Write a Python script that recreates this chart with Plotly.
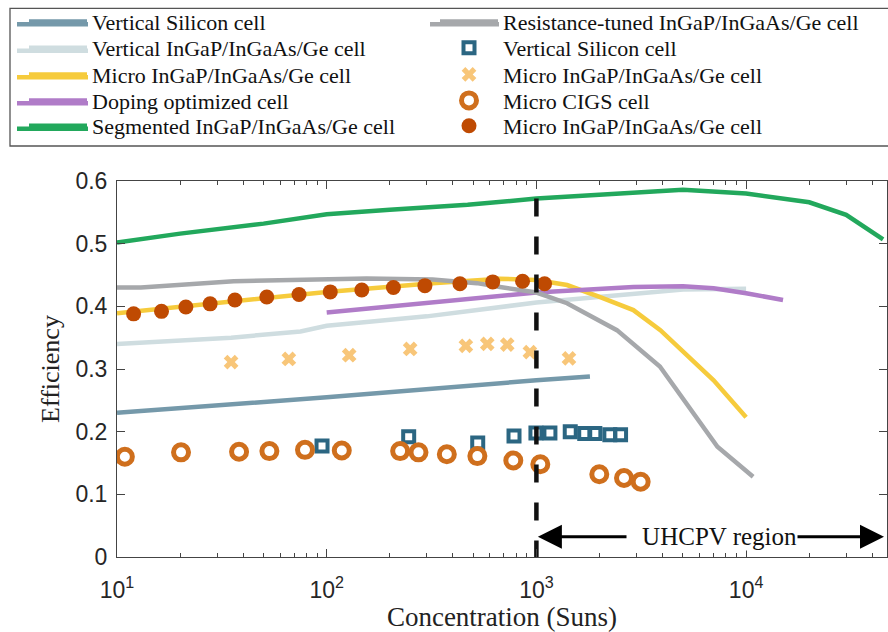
import plotly.graph_objects as go

# ---------------- data ----------------
vsi_line_c = [10, 100, 1000, 1800]
vsi_line_e = [0.230, 0.255, 0.282, 0.288]

vig_line_c = [10, 35, 75, 100, 155, 300, 1000, 2900, 5000, 10000]
vig_line_e = [0.340, 0.350, 0.360, 0.369, 0.375, 0.384, 0.406, 0.421, 0.427, 0.428]

micro_line_c = [10, 100, 320, 670, 1000, 1400, 2000, 2900, 3900, 7000, 10000]
micro_line_e = [0.389, 0.423, 0.437, 0.444, 0.442, 0.434, 0.415, 0.394, 0.362, 0.282, 0.223]

dop_line_c = [100, 316, 1000, 2900, 5000, 7000, 10000, 15000]
dop_line_e = [0.390, 0.406, 0.422, 0.431, 0.432, 0.429, 0.421, 0.410]

seg_line_c = [10, 20, 50, 100, 200, 470, 1000, 2000, 5000, 10000, 20000, 30000, 45000]
seg_line_e = [0.502, 0.516, 0.532, 0.547, 0.554, 0.562, 0.572, 0.578, 0.586, 0.580, 0.566, 0.546, 0.507]

res_line_c = [10, 13, 36, 155, 320, 520, 670, 1000, 1400, 2420, 3880, 5200, 7300, 10800]
res_line_e = [0.430, 0.430, 0.440, 0.4445, 0.443, 0.437, 0.431, 0.422, 0.405, 0.362, 0.304, 0.245, 0.176, 0.128]

vsi_pts_c = [95, 246, 525, 782, 995, 1160, 1450, 1700, 1900, 2240, 2520]
vsi_pts_e = [0.177, 0.192, 0.182, 0.193, 0.198, 0.198, 0.200, 0.197, 0.197, 0.195, 0.195]

micro_x_c = [35, 66, 128, 250, 461, 583, 726, 931, 1430]
micro_x_e = [0.311, 0.316, 0.322, 0.332, 0.337, 0.340, 0.339, 0.327, 0.317]

cigs_c = [10.9, 20.2, 38.2, 53.3, 78.8, 118, 224, 274, 374, 523, 776, 1044, 1995, 2617, 3142]
cigs_e = [0.160, 0.167, 0.168, 0.169, 0.171, 0.170, 0.169, 0.167, 0.164, 0.161, 0.154, 0.148, 0.132, 0.126, 0.120]

micro_dot_c = [12.0, 16.3, 21.3, 27.8, 36.5, 51.8, 73.8, 104, 147, 208, 294, 432, 619, 859, 1094]
micro_dot_e = [0.388, 0.392, 0.399, 0.404, 0.410, 0.415, 0.419, 0.423, 0.426, 0.430, 0.433, 0.436, 0.439, 0.440, 0.436]

uhcpv_c = [1000, 1000]
uhcpv_e = [0.572, 0.0]

x_tickvals = [10, 100, 1000, 10000]
x_ticktext = ["10<sup>1</sup>", "10<sup>2</sup>", "10<sup>3</sup>", "10<sup>4</sup>"]

# ---------------- geometry ----------------
W, H = 888, 632
PL, PT, PR, PB = 117, 181, 887, 557          # plot area in pixels
L, T, R, B = PL, PT, W - PR, H - PB
PW, PH = PR - PL, PB - PT
DEC = 209.7                                  # pixels per decade

def px(x):
    return (x - PL) / PW

def py(y):
    return (PB - y) / PH

SERIF = "Liberation Serif"
SANS = "Liberation Sans"
TXT = "#262626"

C_VSI = "#7599aa"
C_VIG = "#cfdde0"
C_MIC = "#f6cb3c"
C_DOP = "#b07cc8"
C_SEG = "#22a85c"
C_RES = "#a6a8ab"
C_SQ = "#2b6682"
C_X = "#f8c679"
C_CIGS = "#cf6f1d"
C_DOT = "#bf4a02"

fig = go.Figure()
LW = 4.5

def line_trace(c, e, name, color, leg):
    fig.add_trace(go.Scatter(x=c, y=e, mode="lines", name=name,
                             line=dict(color=color, width=LW), legend=leg))

line_trace(vsi_line_c, vsi_line_e, "Vertical Silicon cell", C_VSI, "legend")
line_trace(vig_line_c, vig_line_e, "Vertical InGaP/InGaAs/Ge cell", C_VIG, "legend2")
line_trace(micro_line_c, micro_line_e, "Micro InGaP/InGaAs/Ge cell", C_MIC, "legend3")
line_trace(dop_line_c, dop_line_e, "Doping optimized cell", C_DOP, "legend4")
line_trace(seg_line_c, seg_line_e, "Segmented InGaP/InGaAs/Ge cell", C_SEG, "legend5")
line_trace(res_line_c, res_line_e, "Resistance-tuned InGaP/InGaAs/Ge cell", C_RES, "legend6")

fig.add_trace(go.Scatter(x=vsi_pts_c, y=vsi_pts_e, mode="markers", name="Vertical Silicon cell",
                         marker=dict(symbol="square-open", size=11, color=C_SQ, line=dict(width=4, color=C_SQ)),
                         legend="legend7"))
fig.add_trace(go.Scatter(x=micro_x_c, y=micro_x_e, mode="markers", name="Micro InGaP/InGaAs/Ge cell",
                         marker=dict(symbol="x", size=13, color=C_X, line=dict(width=0)),
                         legend="legend8"))
fig.add_trace(go.Scatter(x=cigs_c, y=cigs_e, mode="markers", name="Micro CIGS cell",
                         marker=dict(symbol="circle-open", size=15, color=C_CIGS, line=dict(width=5, color=C_CIGS)),
                         legend="legend9"))
fig.add_trace(go.Scatter(x=micro_dot_c, y=micro_dot_e, mode="markers", name="Micro InGaP/InGaAs/Ge cell",
                         marker=dict(symbol="circle", size=15, color=C_DOT, line=dict(width=0)),
                         legend="legend10"))
fig.add_trace(go.Scatter(x=uhcpv_c, y=uhcpv_e, mode="lines", showlegend=False,
                         line=dict(color="#111111", width=4.5, dash="18px,20px"), hoverinfo="skip"))

# ---------------- legends (one per entry, two columns) ----------------
rows = [24.3, 50.7, 77.3, 103.3, 128.7]
ROW_ADJ = -2.7
ITEMW = 58
left_origin, right_origin = 24, 435
legs = {}
for i in range(10):
    key = "legend" if i == 0 else f"legend{i+1}"
    if i < 5:
        xo, yo = left_origin, rows[i]
    else:
        xo, yo = right_origin, rows[i - 5]
    legs[key] = dict(x=px(xo), y=py(yo + ROW_ADJ), xref="paper", yref="paper", xanchor="left", yanchor="middle",
                     itemwidth=ITEMW, bgcolor="rgba(0,0,0,0)", borderwidth=0,
                     font=dict(family=SERIF, size=22, color="#111111"),
                     itemclick=False, itemdoubleclick=False)

shapes = [
    dict(type="rect", xref="paper", yref="paper", x0=px(10), x1=px(900), y0=py(8.3), y1=py(146),
         line=dict(color="#555555", width=1.3), fillcolor="rgba(0,0,0,0)", layer="below"),
]
line_colors_left = [C_VSI, C_VIG, C_MIC, C_DOP, C_SEG]
for col, yy in zip(line_colors_left, rows):
    shapes.append(dict(type="line", xref="paper", yref="paper", x0=px(17), x1=px(88), y0=py(yy), y1=py(yy),
                       line=dict(color=col, width=LW)))
shapes.append(dict(type="line", xref="paper", yref="paper", x0=px(430), x1=px(499), y0=py(rows[0]), y1=py(rows[0]),
                   line=dict(color=C_RES, width=LW)))

axis_common = dict(showline=True, linecolor="#444444", linewidth=1, mirror="ticks", ticks="inside",
                   tickcolor="#444444", tickwidth=1, ticklen=8, showgrid=False, zeroline=False,
                   tickfont=dict(family=SANS, size=23, color=TXT))

fig.update_layout(
    width=W, height=H, margin=dict(l=L, r=R, t=T, b=B, autoexpand=False),
    paper_bgcolor="white", plot_bgcolor="white",
    xaxis=dict(type="log", range=[1, 1 + PW / DEC], tickvals=x_tickvals, ticktext=x_ticktext,
               minor=dict(ticks="inside", ticklen=4, tickcolor="#444444", dtick="D1", showgrid=False),
               title=dict(text="Concentration (Suns)", font=dict(family=SERIF, size=27, color="#222222"), standoff=12),
               ticklabelstandoff=12, **axis_common),
    yaxis=dict(range=[0, 0.6], dtick=0.1, tick0=0,
               title=dict(text="Efficiency", font=dict(family=SERIF, size=26, color="#222222"), standoff=8),
               ticklabelstandoff=4, **axis_common),
    shapes=shapes,
    showlegend=True,
    **legs,
)

# UHCPV region arrow
fig.add_annotation(x=1 + (884 - PL) / DEC, y=0.0324, ax=3.0, ay=0.0324, xref="x", yref="y", axref="x", ayref="y",
                   text="", showarrow=True, arrowside="end+start", arrowhead=2, startarrowhead=2,
                   arrowsize=1.6, startarrowsize=1.6, arrowwidth=3, arrowcolor="#000000", standoff=0, startstandoff=0)
fig.add_annotation(x=1 + (712 - PL) / DEC, y=0.0324, xref="x", yref="y", text="UHCPV region", showarrow=False,
                   width=170, align="right", bgcolor="white", borderpad=0,
                   font=dict(family=SERIF, size=25, color="#111111"))

fig.write_html("out.html", config={"displayModeBar": False},
               post_script="document.body.style.margin='0';document.body.style.overflow='hidden';")
